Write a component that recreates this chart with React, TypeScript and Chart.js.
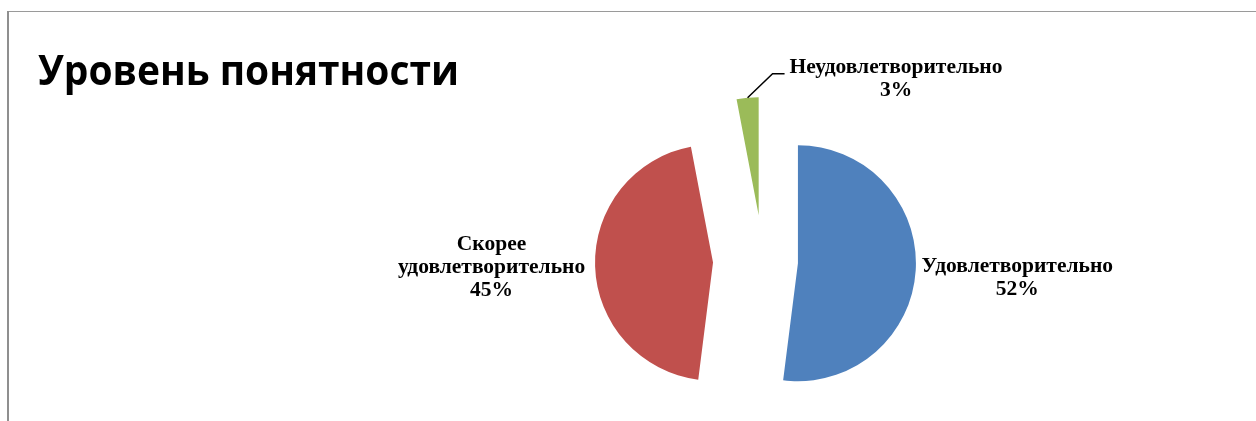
import React, { useEffect, useRef } from 'react';
import { Chart, registerables } from 'chart.js';

Chart.register(...registerables);

// ---- data ----
const TITLE = 'Уровень понятности';
const CATEGORIES = ['Удовлетворительно', 'Скорее удовлетворительно', 'Неудовлетворительно'];
const VALUES = [52, 45, 3];
const COLORS = ['#4F81BD', '#C0504D', '#9BBB59'];
// per-slice explosion distance (px)
const EXPLODE = [35, 50, 46];

// ---- styles ----
const W = 1256;
const H = 421;
const LABEL_FONT = 'bold 21.5px "Liberation Serif", "Times New Roman", serif';
const LINE_H = 23;
const LABEL_NUDGE_X = [0, -4, 0];
const LABEL_NUDGE_Y = [6, 0, 0];
const TITLE_FONT = 'bold 42px "Open Sans", "Noto Sans", sans-serif';
const TITLE_WIDTH = 421;

const framePlugin = {
  id: 'frame',
  beforeDraw(chart: any) {
    const ctx = chart.ctx;
    ctx.save();
    ctx.fillStyle = '#ffffff';
    ctx.fillRect(0, 0, chart.width, chart.height);
    ctx.fillStyle = '#9a9a9a';
    ctx.fillRect(7, 11, chart.width, 1);
    ctx.fillStyle = '#8f8f8f';
    ctx.fillRect(7, 11, 2, chart.height);
    ctx.restore();
  },
};

const explodePlugin = {
  id: 'explode',
  beforeDatasetDraw(chart: any, args: any) {
    const ctx = chart.ctx;
    args.meta.data.forEach((arc: any, i: number) => {
      const mid = (arc.startAngle + arc.endAngle) / 2;
      ctx.save();
      ctx.translate(Math.cos(mid) * EXPLODE[i], Math.sin(mid) * EXPLODE[i]);
      arc.draw(ctx);
      ctx.restore();
    });
    return false;
  },
};

const labelsPlugin = {
  id: 'sliceLabels',
  afterDatasetsDraw(chart: any) {
    const ctx = chart.ctx;
    const meta = chart.getDatasetMeta(0);
    const total = VALUES.reduce((a, b) => a + b, 0);
    ctx.save();
    ctx.font = LABEL_FONT;
    ctx.fillStyle = '#000';
    ctx.textAlign = 'center';
    ctx.textBaseline = 'middle';
    meta.data.forEach((arc: any, i: number) => {
      const { x, y, startAngle, endAngle, outerRadius } = arc;
      const mid = (startAngle + endAngle) / 2;
      const dx = Math.cos(mid);
      const dy = Math.sin(mid);
      const ax = x + dx * EXPLODE[i];
      const ay = y + dy * EXPLODE[i];
      const lines = [...CATEGORIES[i].split(' '), Math.round((VALUES[i] / total) * 100) + '%'];
      const w = Math.max(...lines.map((l) => ctx.measureText(l).width));
      const h = lines.length * LINE_H;
      let cx: number;
      let cy: number;
      if (VALUES[i] / total < 0.05) {
        const px = ax + dx * outerRadius;
        const py = ay + dy * outerRadius;
        const ex = px + 25;
        const ey = py - 24;
        const hx = ex + 12;
        ctx.beginPath();
        ctx.moveTo(px, py);
        ctx.lineTo(ex, ey);
        ctx.lineTo(hx, ey);
        ctx.strokeStyle = '#000';
        ctx.lineWidth = 1.5;
        ctx.stroke();
        cx = hx + 5 + w / 2;
        cy = ey + 5;
      } else {
        const r = outerRadius + 6;
        const bx = ax + dx * r;
        const by = ay + dy * r;
        cx = bx + (dx * w) / 2;
        cy = by + (dy * h) / 2;
      }
      cx += LABEL_NUDGE_X[i];
      cy += LABEL_NUDGE_Y[i];
      lines.forEach((l, k) => ctx.fillText(l, cx, cy - h / 2 + LINE_H / 2 + k * LINE_H));
    });
    ctx.restore();
  },
};

const titlePlugin = {
  id: 'customTitle',
  afterDraw(chart: any) {
    const ctx = chart.ctx;
    ctx.save();
    ctx.font = TITLE_FONT;
    ctx.fillStyle = '#000';
    ctx.textAlign = 'left';
    ctx.textBaseline = 'alphabetic';
    const mw = ctx.measureText(TITLE).width;
    ctx.translate(38, 85);
    ctx.scale(TITLE_WIDTH / mw, 1);
    ctx.fillText(TITLE, 0, 0);
    ctx.restore();
  },
};

export default function App() {
  const ref = useRef<HTMLCanvasElement | null>(null);
  useEffect(() => {
    if (!ref.current) return;
    const chart = new Chart(ref.current, {
      type: 'pie',
      data: {
        labels: CATEGORIES,
        datasets: [
          {
            data: VALUES,
            backgroundColor: COLORS,
            borderWidth: 0,
            radius: 118,
          } as any,
        ],
      },
      options: {
        animation: false,
        responsive: false,
        events: [],
        rotation: 0,
        layout: { padding: { left: 270, right: 0, top: 101, bottom: 0 } },
        plugins: {
          legend: { display: false },
          tooltip: { enabled: false },
          title: { display: false },
        },
      },
      plugins: [framePlugin, explodePlugin, labelsPlugin, titlePlugin],
    });
    return () => chart.destroy();
  }, []);
  return (
    <canvas
      ref={ref}
      width={W}
      height={H}
      style={{ position: 'fixed', left: 0, top: 0, display: 'block' }}
    />
  );
}
